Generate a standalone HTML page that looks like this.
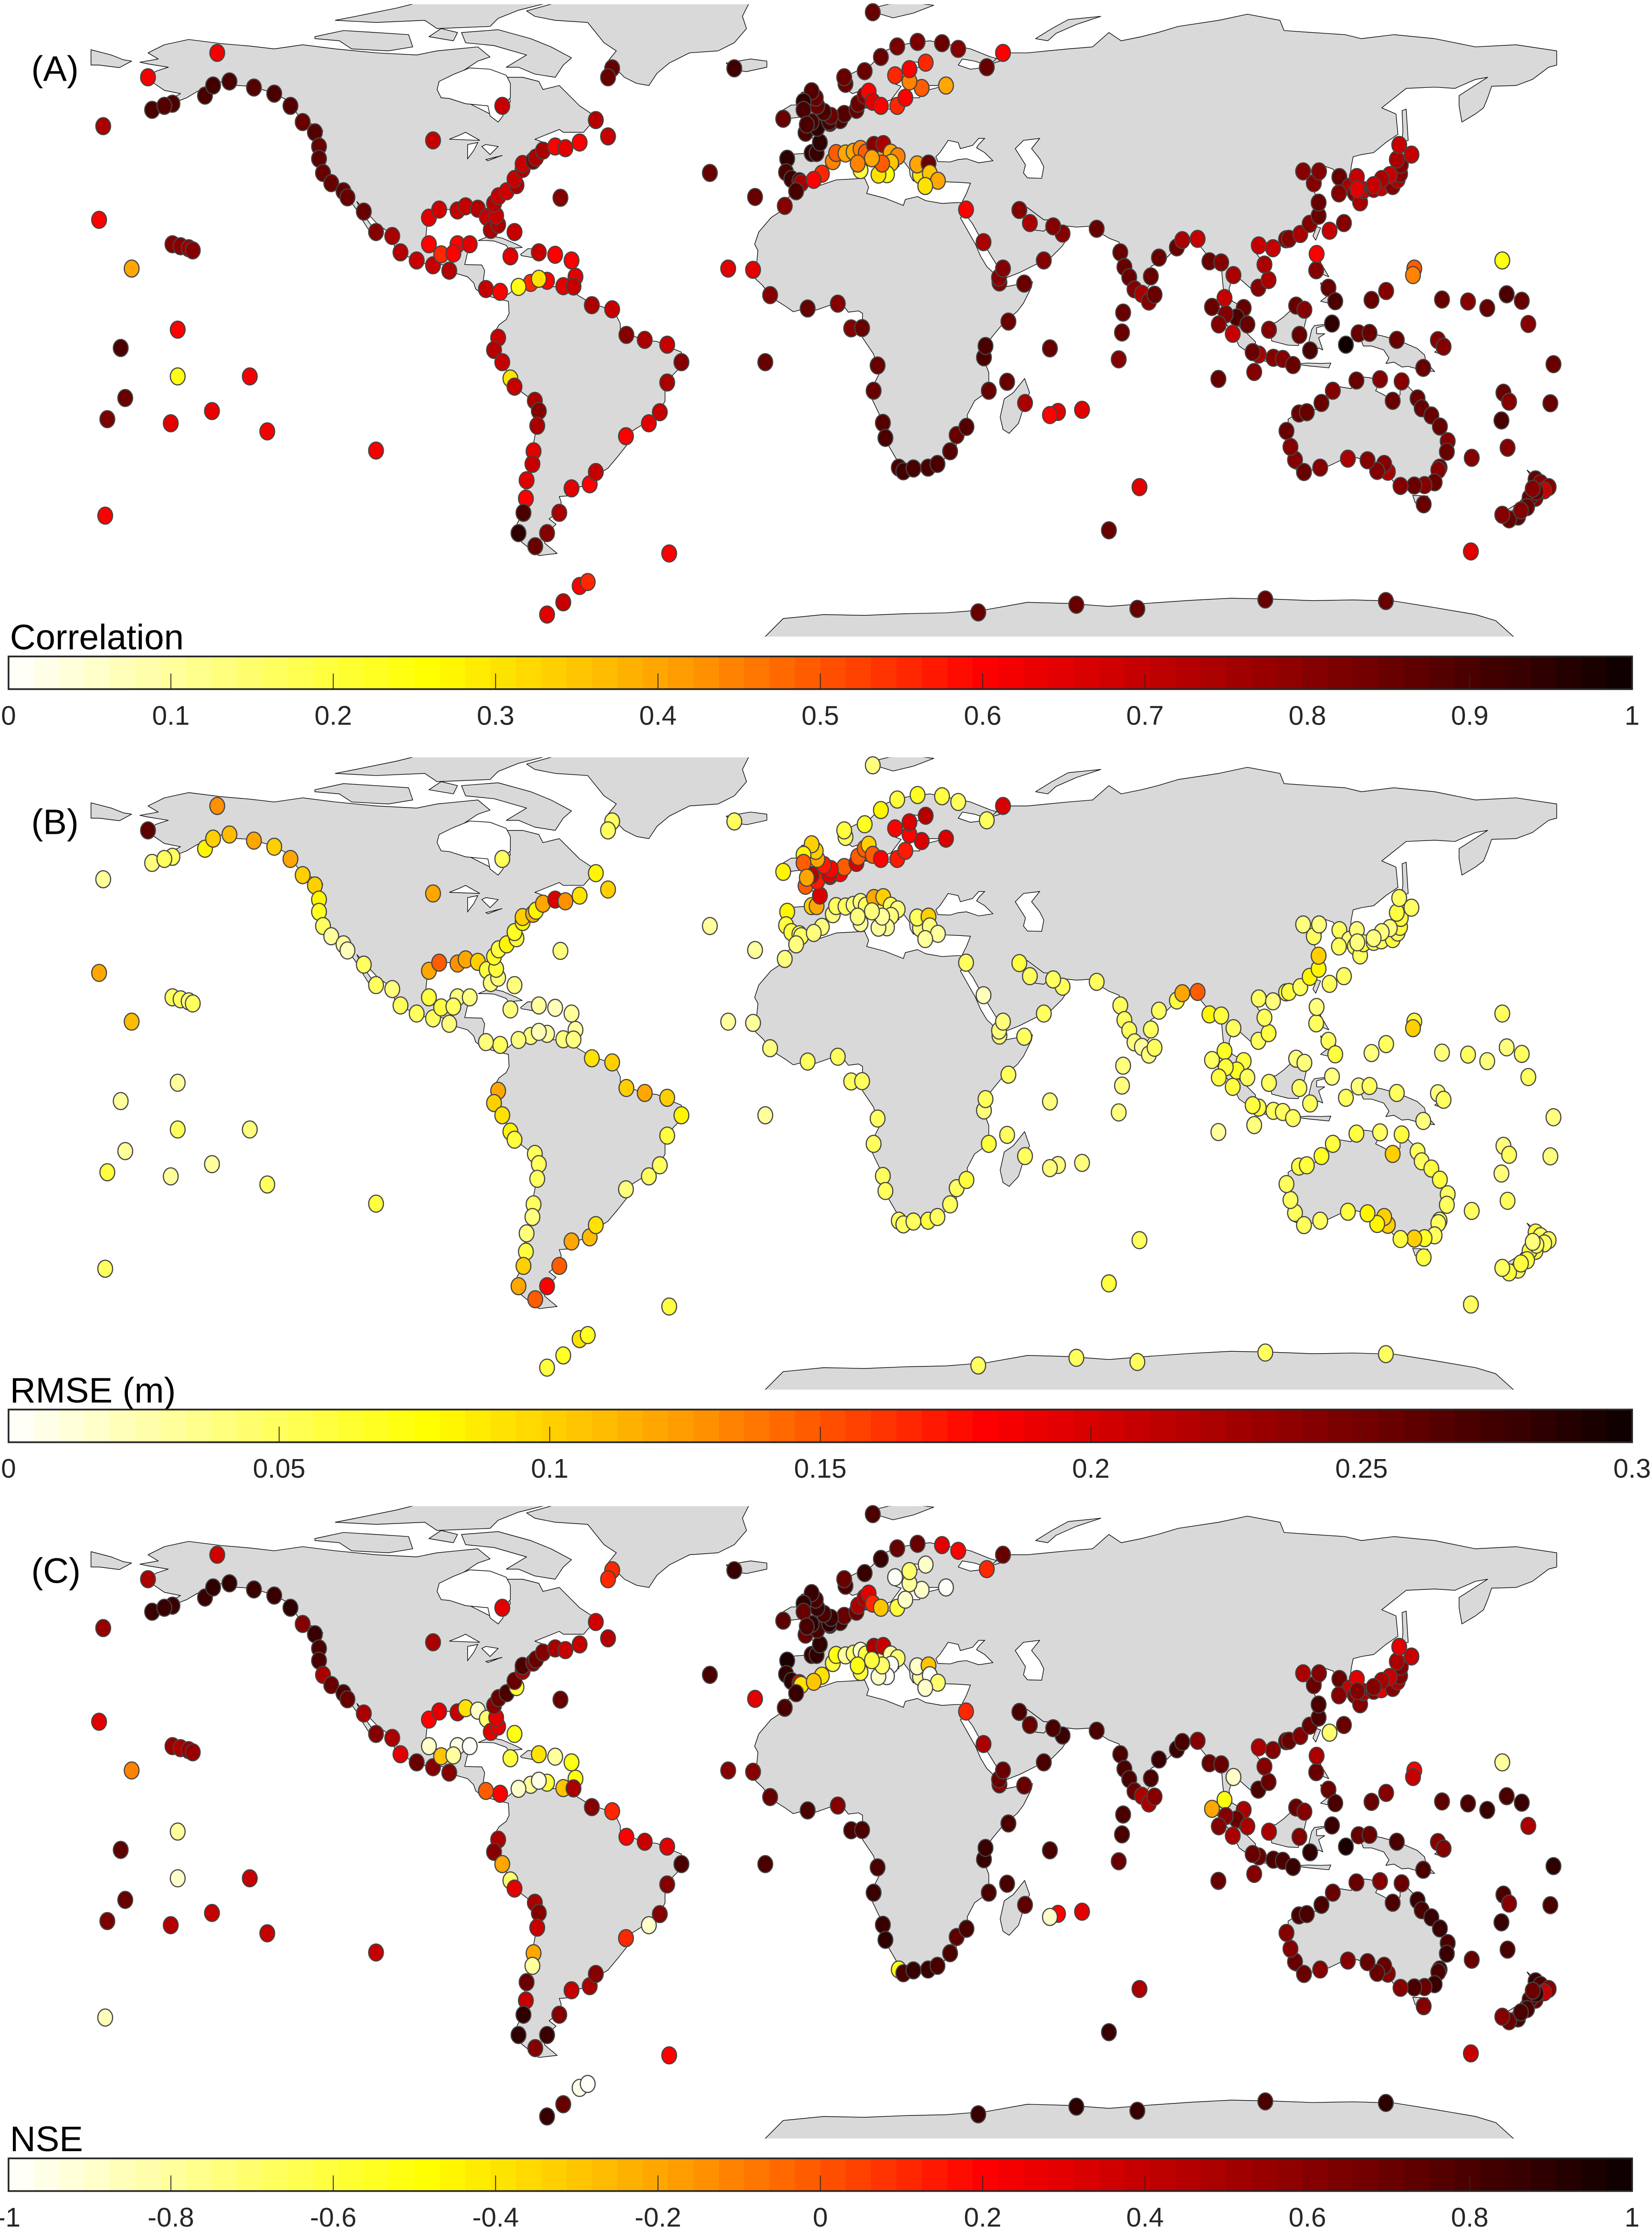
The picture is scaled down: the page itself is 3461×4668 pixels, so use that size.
<!DOCTYPE html>
<html><head><meta charset="utf-8">
<style>
html,body{margin:0;padding:0;background:#fff;}
svg{display:block;font-family:"Liberation Sans",sans-serif;}
</style></head>
<body>
<svg id="fig" xmlns="http://www.w3.org/2000/svg" width="3461" height="4668" viewBox="0 0 1162 1568" preserveAspectRatio="none"></svg>
<script>
// ---- station data (lon, lat) and metric values ----
const stationLon = [
-177,-166,-149,-178,-170,-160,-158,-156,-155,-172.7,-158.7,-158.7,-171.6,-176,-160.4,-150.3,
-141,-136.7,-110,-176.5,
-165,-160,-162,-152,-150,-146,-140,-135,-131,-128,-125,-124,-124,-123,-121,-118,-117,-113,-110,-106,-104,-100,-96,-92,
-97,-94.5,-90,-88,-85,-82.8,-81.8,-97,-94,-90,-87,-91,
-80,-76,-77,-70,-66,-62,-61,-64,-68,-72,-75,-79.5,-83,-70,
-80.5,-81,-79.9,-77.9,-75.5,-76,-74,-74,-71.4,-70.7,-69,-66,-63.5,-60,-53,-56,-96,-79,
-52,-53,-22,12,
-80,-81,-79,-77,-76,-71,-70,-70.4,-71.3,-71.6,-73,-73.2,-73.8,-75,-70.9,
-68,-65,-62,-57.5,-56,-48.6,-43,-40.3,-38.5,-35,-38.5,-44,-48.5,-52,-57,-61.5,
-68,-64,-60,-58,-38,-14.4,
-28,-16.9,-23.5,6.7,-64.7,
-9,-9.3,-8,-6,-5.6,-3,-1.8,-1,-4.5,-1.6,1.5,4,5,8,8.4,-3,1.3,1.7,0,-1.6,-2,-3,-5,-5,-4.2,-10,
5.3,5,10,14,18,23,29,33,40,44,10,11,12,14,18,20,24,21,17.5,21,25,30,
-0.5,2.2,3,5.3,7.3,9,10.3,13,12.3,14.6,16.4,18.1,16.5,15.5,13.4,9,8.3,14.3,11.8,23.6,22.9,25.7,26,28,24.9,-2.5,
-6.8,-9.6,-17.4,-13.2,-4,3.4,12.2,14.5,15.1,18.4,19.5,22,25.6,27.9,31,32.6,35,40.5,39.3,39.7,45.3,49.2,43.1,39.2,34.9,9.4,13.2,
57.5,55.5,63.4,45,49.4,55.5,73.5,73.2,72.4,77.5,70,96.9,
58.6,56.3,50.6,48,67,72.8,73.8,75,76.3,78.1,80.3,82.3,86.7,88,91.8,79.8,81.2,43,54,44,
94.7,97.6,98.4,100.6,103.1,101.4,104,106.7,109.2,108.2,106.8,110.3,113.5,114.2,117,119.3,121.5,121.5,120.3,121.6,117.7,126.6,129,130.9,126.5,95.3,98.7,100.4,
130.4,131.7,132.5,135,136.9,139.7,140.9,141.5,141.7,140.7,144.3,141.3,139,137,135,131,127.7,124.2,
120.9,123.9,125.6,121,106.8,110.4,112.7,115.2,119.4,124.8,128.2,131.3,134,140.7,147.2,150.8,152.2,116,118,109.3,116.8,105.7,105.3,97,
166.6,145,144.7,134.5,138.1,151.8,158.2,162.9,167.7,171.4,173,166.9,168.3,166.4,178.4,179.2,
115.7,114.6,113.6,116.7,118.6,122.2,125,130.8,136.6,139.7,141.9,145.8,146.8,149.2,151.3,153.2,153,151.2,150.9,150,147.5,145,141.6,138.5,137.6,135.9,133.5,128.7,121.9,117.9,147.3,159.1,
174.8,176,178,176.9,174.8,173.3,172.7,170.5,168.3,166.6,171.2,175,174.1,158.9,167.9,
37.9,62,77,108.4,138
];
const stationLat = [
50,62,68,27,15,21,20.5,20,19.5,-4.5,0,-11.5,-16.8,-22,-23,-20,
-11.5,-25,-29.7,-45.7,
54,55.5,55,57.5,60,61,59.5,58,55,51,48.5,45,42,38.5,36,34,32.5,29,24,23,19,17,15.8,14.5,
27.5,29.5,29.3,30.3,29.7,27.7,24.5,21,18.5,21,21,18.7,
25.8,24,18,19,18.4,17,13,10.7,12,11.5,10.5,9.3,10,12.5,
28,31,32.8,34,35.5,37,39.5,40.7,41.5,42.3,44,45,44.6,46,47.5,51.5,46.5,55,
64.2,62,64.2,78,
-2,-5,-8,-12,-14,-17.5,-20,-23.6,-29.9,-33,-37,-41.5,-45,-50,-53.2,
-50,-45,-39,-38,-35,-26.2,-23,-20.3,-13,-8,-3.7,-2.5,-1.3,5,6,10.6,
-70,-67,-63,-62,-55,-8,
38.5,32.6,15,0.3,32.4,
42,38.7,37,36.5,36,43.4,43.4,46,48.4,49.6,50.8,51.5,53,54,55.5,51,51.1,52.5,53.5,55,57,58.6,56,54,50.4,51.8,
60.4,62,63.5,67,69.6,70.7,70.4,69,64.5,68,57.5,58.5,56,55,55,57,59.4,61,62.5,64,65.6,60,
38.3,41.4,43.4,43.3,43.7,44.4,43.5,43.6,45.4,45.6,43.5,42.6,41,38.2,38.1,39.2,40.8,40.8,42.1,38,40.6,40.8,38.4,36.6,35.3,36.8,
34,30.4,14.7,8.5,5.2,6.4,-15,-22.9,-26.6,-33.9,-34.8,-34.1,-33.9,-33,-29.9,-25.9,-23.9,-15,-6.8,-4,2,11.3,11.6,21.5,29.5,0.4,-8.8,
-20.2,-21,-19.7,-12.8,-18,-4.6,4.2,-0.7,-7.3,-38.7,-49.3,-12.1,
23.6,25.4,26.2,29.4,24.8,19,15.4,12.9,9.9,8.8,13.1,17.7,20.2,22,22.3,6.9,8.6,12.8,17,15,
16.8,16.5,7.8,13.4,5.3,3,1.3,10.3,12.2,16,20.7,20,22.2,22.3,23.5,26,28,31.2,36,38.9,38.9,37.5,35.1,37.5,33.5,5.6,3.8,-1,
33.6,31.3,34.3,34.6,35,35.3,36.9,38.3,40.5,41.8,43,45.4,38,37,35.5,34.5,26.2,24.3,
14.6,10.3,7,18.6,-6.1,-6.9,-7.2,-8.7,-5.1,1.5,-3.7,-0.9,-0.8,-2.5,-9.4,-2.6,-4.2,5.9,4.9,-0.03,-1.3,-10.4,-5.5,1.3,
17,15,13.4,7.3,9.5,7.4,6.9,5.3,8.7,7.1,1.4,-15.5,-17.7,-22.3,-18.1,-8.5,
-32,-28.8,-24.9,-20.6,-20.3,-18,-15,-12.5,-12.2,-17.5,-12.7,-16.9,-19.3,-21.1,-23.8,-27.4,-30,-33.9,-34.5,-37.5,-38.2,-38.3,-38.4,-34.9,-33,-34.7,-32.1,-31.7,-33.9,-35,-42.9,-31.5,
-36.8,-37.7,-38.7,-39.5,-41.3,-41.3,-43.6,-45.9,-46.6,-45.5,-44.4,-39.8,-39.1,-54.5,-29,
-69.5,-67.6,-68.6,-66.3,-66.7
];
const corrValues = [
.75,.62,.62,.6,.4,.8,.8,.78,.8,.9,.6,.25,.85,.82,.65,.63,
.62,.62,.62,.6,
.9,.9,.88,.9,.92,.9,.88,.9,.88,.85,.88,.85,.86,.85,.85,.87,.85,.85,.8,.75,.72,.7,.7,.72,
.65,.68,.7,.7,.72,.7,.75,.6,.55,.6,.65,.6,
.75,.7,.65,.7,.6,.6,.65,.65,.6,.55,.25,.6,.7,.3,
.7,.72,.7,.68,.75,.7,.72,.7,.8,.75,.75,.6,.65,.6,.7,.72,.7,.7,
.85,.85,.92,.85,
.7,.72,.7,.3,.7,.75,.8,.75,.65,.7,.65,.6,.9,.95,.85,
.8,.75,.65,.6,.7,.6,.65,.7,.75,.8,.7,.75,.8,.7,.75,.7,
.65,.7,.6,.55,.6,.85,
.85,.85,.65,.8,.8,
.95,.9,.92,.85,.75,.95,.93,.95,.9,.95,.9,.9,.88,.85,.85,.9,.9,.85,.9,.85,.85,.88,.95,.9,.9,.85,
.85,.85,.85,.85,.82,.82,.85,.8,.85,.6,.8,.6,.65,.6,.55,.6,.5,.45,.55,.6,.55,.4,
.55,.45,.5,.4,.4,.45,.5,.4,.8,.75,.4,.45,.35,.25,.3,.2,.45,.5,.4,.3,.4,.85,.35,.4,.3,.6,
.9,.8,.65,.8,.85,.8,.85,.88,.9,.9,.92,.9,.9,.9,.88,.85,.88,.85,.9,.9,.85,.85,.8,.75,.6,.85,.85,
.65,.6,.65,.85,.75,.85,.85,.85,.8,.65,.85,.85,
.8,.8,.75,.8,.85,.85,.85,.85,.8,.75,.85,.85,.85,.75,.7,.8,.85,.8,.8,.8,
.85,.8,.7,.75,.85,.9,.85,.8,.75,.75,.7,.7,.8,.8,.75,.8,.85,.85,.8,.8,.8,.85,.75,.7,.8,.85,.8,.7,
.8,.75,.7,.75,.7,.8,.75,.8,.8,.75,.7,.7,.7,.75,.7,.65,.8,.7,
.8,.85,.9,.6,.75,.8,.8,.85,.9,.95,1,.85,.85,.85,.85,.8,.8,.85,.8,.8,.85,.8,.85,.8,
.25,.5,.45,.85,.8,.85,.8,.85,.9,.85,.8,.85,.8,.9,.85,.85,
.8,.8,.85,.85,.85,.85,.8,.85,.8,.85,.8,.85,.85,.85,.85,.8,.85,.85,.8,.85,.8,.85,.8,.75,.8,.8,.8,.75,.8,.85,.85,.8,
.85,.8,.8,.7,.8,.85,.85,.85,.85,.8,.8,.85,.8,.65,.8,
.85,.85,.85,.85,.85
];
const rmseValues = [
.03,.26,.13,.12,.11,.05,.05,.04,.05,.03,.03,.05,.03,.06,.03,.03,
.04,.05,.06,.05,
.04,.05,.05,.08,.1,.11,.12,.1,.12,.1,.1,.08,.07,.05,.03,.03,.02,.05,.05,.04,.05,.05,.05,.04,
.12,.15,.13,.12,.1,.06,.04,.06,.06,.04,.04,.05,
.04,.04,.04,.03,.02,.03,.03,.04,.03,.04,.04,.05,.04,.02,
.06,.07,.06,.08,.06,.07,.08,.1,.12,.08,.12,.2,.13,.09,.1,.08,.12,.05,
.05,.05,.05,.04,
.12,.1,.09,.08,.06,.05,.05,.05,.05,.04,.04,.06,.1,.12,.15,
.18,.15,.12,.11,.09,.04,.05,.05,.06,.08,.1,.12,.1,.1,.09,.04,
.06,.07,.09,.07,.06,.03,
.03,.03,.03,.05,.04,
.08,.06,.06,.05,.05,.1,.12,.2,.15,.17,.2,.18,.15,.2,.15,.22,.2,.18,.17,.12,.1,.1,.08,.15,.12,.08,
.05,.06,.07,.08,.06,.07,.06,.05,.05,.2,.15,.1,.15,.18,.17,.17,.2,.18,.18,.2,.22,.2,
.04,.04,.05,.05,.04,.04,.05,.05,.12,.1,.05,.04,.04,.03,.03,.03,.04,.03,.04,.04,.05,.1,.04,.03,.03,.04,
.04,.04,.03,.04,.05,.05,.05,.05,.05,.05,.05,.05,.06,.05,.05,.05,.06,.06,.04,.05,.05,.05,.04,.02,.05,.05,.05,
.04,.04,.04,.05,.05,.04,.04,.04,.04,.05,.06,.03,
.05,.05,.05,.06,.05,.05,.05,.05,.04,.03,.05,.05,.06,.12,.15,.04,.05,.04,.05,.04,
.08,.06,.07,.05,.06,.07,.05,.05,.06,.05,.05,.04,.06,.06,.05,.08,.08,.1,.05,.04,.04,.05,.04,.04,.05,.05,.06,.06,
.05,.05,.06,.05,.05,.06,.05,.06,.06,.06,.05,.05,.04,.04,.04,.04,.05,.05,
.05,.05,.06,.04,.06,.05,.05,.05,.05,.04,.05,.04,.05,.05,.04,.04,.05,.04,.04,.05,.05,.04,.06,.06,
.05,.06,.1,.04,.05,.04,.05,.04,.04,.05,.05,.04,.05,.04,.04,.04,
.05,.05,.05,.06,.06,.07,.06,.06,.05,.1,.06,.05,.05,.06,.06,.05,.05,.05,.05,.05,.07,.1,.06,.1,.1,.08,.08,.06,.05,.05,.06,.05,
.06,.05,.05,.05,.06,.06,.06,.05,.06,.05,.06,.05,.04,.05,.05,
.05,.05,.05,.05,.05
];
const nseValues = [
.55,.5,.35,.3,-.1,.55,.5,.55,.55,.75,-.8,-.9,.7,.65,.45,.4,
.4,.4,.4,-.85,
.85,.85,.85,.85,.9,.88,.85,.85,.88,.6,.85,.8,.8,.5,.7,.8,.7,.5,.6,.5,.3,.7,.6,.6,
.2,.3,.4,-.4,-.9,-.7,.3,-.9,-.3,-.95,-1,-.8,
.3,-.5,-.6,-.4,-.8,-.5,-.5,-.3,-.6,-.8,-.9,.2,0,-.95,
.3,.6,.7,.8,-.6,.7,.5,.8,.6,.7,.6,.5,.4,.4,.45,.35,.5,.3,
.1,.1,.85,.8,
.5,.6,-.2,-.7,.3,.5,.6,.4,-.2,-.8,.7,.4,.9,.9,.6,
.85,.6,.4,.5,.6,.1,-.9,.6,.6,.8,.3,.4,.2,.1,.6,.5,
.85,.7,-.95,-1,.2,.8,
.8,.3,.6,.8,.7,
.95,.9,.9,.3,-.4,.85,.9,.9,.7,.8,.85,.8,.7,.7,.5,.9,.9,.85,.8,.85,.8,.85,.9,.7,.8,.75,
.8,.7,.85,.85,.7,.7,.3,.2,.1,.7,.5,.3,.1,-.3,-.6,-.9,-.9,-.8,-1,-.7,-.9,-1,
-.4,-.6,-.5,-.8,-.7,-.9,-.6,-.7,.5,.4,-.8,-.7,-1,-1,-.9,-.6,-.5,-.7,-.6,-.8,-.9,-.3,-1,-.7,-.9,-.3,
.85,.8,.6,.7,.8,.6,.85,.85,.9,-.5,.8,.85,.85,.8,.8,.75,.8,.8,.85,.85,.8,.7,.6,.5,.1,.8,.8,
.2,-.9,.3,.8,.75,.8,.8,.8,.7,.5,.85,.7,
.85,.8,.7,.8,.8,.8,.8,.8,.7,.5,.8,.85,.85,.8,.6,.5,.6,.7,.8,.7,
.7,.7,-.5,-.9,.5,.7,.5,.8,.7,.6,.5,.6,.7,.7,.6,.7,.8,.8,.7,.6,.5,.7,.4,.3,.6,-.2,.6,.5,
.6,.6,.5,.6,.3,.6,.5,.6,.6,.5,.4,.3,.4,.5,.6,.6,.7,-.7,
.7,.7,.8,.5,.7,.8,.8,.85,.9,.85,.95,.7,.7,.8,.8,.6,.6,.7,.6,.5,.6,.6,.7,.6,
-.8,.2,.4,.7,.6,.75,.8,.85,.8,.85,.5,.8,.6,.85,.8,.9,
.7,.6,.6,.8,.8,.8,.7,.7,.6,.8,.7,.85,.8,.85,.85,.8,.85,.85,.8,.85,.7,.8,.6,.6,.7,.7,.7,.6,.6,.7,.6,.7,
.85,.8,.6,.4,.7,.8,.8,.8,.7,.6,.8,.85,.7,.4,.8,
.85,.9,.85,.8,.9
];
// colorbar tick labels
const corrTicks = ["0","0.1","0.2","0.3","0.4","0.5","0.6","0.7","0.8","0.9","1"];
const rmseTicks = ["0","0.05","0.1","0.15","0.2","0.25","0.3"];
const nseTicks = ["-1","-0.8","-0.6","-0.4","-0.2","0","0.2","0.4","0.6","0.8","1"];
const panelLetters = ["(A)","(B)","(C)"];
const panelTitles = ["Correlation","RMSE (m)","NSE"];
const panelMin = [0,0,-1];
const panelMax = [1,0.3,1];

// ---- land outlines (lon,lat) ----
const LAND = [
"-166,68 -162,70 -156,71.3 -148,70.3 -141,69.7 -135,69 -128,70 -120,69 -110,68 -100,67.5 -95,68.5 -90,69 -85,69.5 -82,67 -85,66 -88,64 -93,61 -94.5,58.5 -92,57 -87,55.5 -82,53 -80,51.5 -79,54 -77,56 -77.5,58.5 -78,62 -74,62 -70,61 -69,59 -65,60 -62,57 -60,55 -57,53 -56,52 -59,48.5 -64,48.5 -65,49.2 -71,46.8 -66,45 -61,45.5 -60,45.5 -64,44 -66,43.8 -70,43.5 -70.5,42 -72,41 -74,40.5 -74,39.5 -75.5,38.5 -76,37 -75.5,35.5 -77,34.5 -79,33.5 -81,31.5 -80.5,28 -80,25.5 -81.2,25.2 -82.7,27.7 -83,29 -84.5,30 -86,30.4 -89,30.3 -90,29 -91.5,29.5 -94,29.6 -97,27.8 -97.5,25.5 -97.8,22.5 -96.5,19.5 -94.5,18.2 -92,18.6 -91,19.2 -90.5,21 -87,21.5 -87.5,19 -88.2,16 -84,15.9 -83.3,14.5 -83.8,11 -82,9 -79.5,9.5 -77.5,8.7 -75.5,10.5 -74,11.2 -72,12.2 -71,11 -70,12.2 -68,10.5 -64,10.6 -62,10.7 -60.5,8.5 -58,7 -55,5.8 -52,4.8 -51,3.5 -50,1.5 -50,0 -48,-1 -44.5,-2.5 -41,-2.9 -37.5,-4.5 -35,-5.5 -35,-9 -37,-11 -39,-14 -39,-17.5 -40.5,-20.5 -42,-23 -44.5,-23.3 -48,-25.5 -48.5,-28.5 -50.5,-31 -53,-34 -54.5,-35 -56.8,-36.3 -57.5,-38.2 -62,-39 -62.3,-40.8 -65,-41 -64.5,-42.5 -65.5,-45 -67.5,-46.5 -65.8,-47.8 -69,-51 -68.5,-52.5 -65.5,-55 -70,-55.5 -72,-54 -74.5,-52 -75.5,-48 -74,-45 -73.5,-42 -73.5,-37 -71.8,-33 -71.5,-29 -70.4,-23 -70.2,-18.5 -72,-17 -76,-14 -78,-10 -79.5,-7 -81,-5.2 -80,-2 -80.5,0 -79.8,1.2 -78,2.5 -77.3,4 -77.5,7 -80,7.5 -81.5,8 -83.5,8.5 -85.5,10 -86,11.5 -87.5,13 -91,14 -93,15.8 -95,16.2 -97,15.8 -100,17 -103,18.3 -105.5,20.5 -105.5,23 -109.5,25.8 -112.5,29 -114.7,31.5 -114,30 -112.5,27.5 -110,24 -110.3,23 -112,24.8 -114,28 -115,29.8 -117,32.5 -118.5,34 -120.6,34.5 -122,36.8 -123,38 -124,40.3 -124.3,43 -124,46.3 -124.7,48.4 -123,48.8 -125.5,50.5 -128,51 -130,54 -132,56.5 -135.5,58.3 -138,59 -140,59.8 -144,60 -147,60.8 -150,61 -151.5,59.5 -154,58.5 -156.5,57 -159,56 -163,54.8 -162,55.8 -158,58 -162,58.8 -164.5,60.5 -165.5,62.5 -164,63.5 -161,64.5 -166,65.3 -168,65.7 -163.5,66.5",
"-80,73.7 -72,71.5 -67,69.5 -62,66.8 -64,65 -66,62 -71,62.8 -75,64.5 -78,64.5 -73,67.5 -81,69.8 -88,70.5 -89,73",
"-125,72 -118,73.5 -110,73 -102,72.5 -101,69.5 -107,68.5 -116,69 -119,71 -125,71.5",
"-95,74 -82,74.5 -80,76.5 -75,78.5 -65,81 -62,82.5 -80,83 -95,81.5 -105,79 -115,77 -120,76 -110,75.5 -98,76",
"-97,72 -94,74 -90,73 -91,71",
"-73,78.3 -67,80 -60,82 -40,83.5 -22,83 -18,81 -20,77 -19,74 -22,70.5 -26,68.5 -33,68 -38,65.5 -41,63 -43,60 -46,60.5 -49,62 -51,64 -53,66 -51,68.5 -54,70.5 -56,73 -58,75.5 -66,76 -71,77",
"-84.9,21.9 -82,23.1 -79,22.5 -75.5,21 -74.1,20.2 -77.5,19.9 -78,20.7 -81,21.8 -83,21.9",
"-74.5,18.5 -72.7,19.9 -70,19.8 -68.4,18.6 -71.5,17.7 -74.3,18.2",
"-67.2,18.5 -65.6,18.4 -65.8,18 -67.2,18",
"-78.3,18.5 -76.3,18.2 -77,17.8 -78.3,18.2",
"-24,65.5 -18,66.5 -14,66 -14,64.5 -19,63.4 -22.5,63.9",
"-5.7,50 1.4,51.1 1.7,52.7 0,53.5 -1.5,55.5 -2,57.5 -3.5,58.6 -5.5,58.3 -6,56.5 -5,55 -3.2,54 -4.5,53.3 -5,52 -3.5,51.5 -5.7,50",
"-10,51.7 -6,52.2 -6,54 -5.7,55.2 -8,55.2 -10,54 -9.5,53",
"-9,37 -9.5,39 -9,43 -2,43.5 -1.5,46 -4.5,48.5 -1.5,49.7 1.5,51 4,51.5 5,53.3 8,53.6 8.5,55.5 8,57 10.5,57.7 10.5,56 12,55.5 10,54.5 14,54 19,54.5 21,55.5 21,57 23.5,57 24,58.5 28,59.5 30,60 23,60 21.5,61 21.5,63.5 25,65.5 22,65.8 19,63.5 17.5,62 17,60.5 19,59.8 16.5,56.5 14,55.5 12.8,56 11,58.5 10,59 7,58 5.5,59 5,62 8,63.5 11,64.5 13,66.5 15,68.5 18,69.8 22,70.5 26,71 31,70 36,69 41,67 44,66.2 40,65 37,66 34,66.5 33,65 36,64 40,64.5 44,68 50,68 55,68.5 60,69 66,69.5 70,73 73,71 78,72 82,73 87,74.5 97,76 104,77.5 112,76 113,73.5 120,73 128,72.5 132,71.5 140,72.5 150,71.5 160,69.5 170,70 180,68.5 180,65 178,64.5 174,61.5 170,60 164,59.8 163,57 162,54.5 160,53 156.7,51 156,55 156,57.5 163,62 160,61.5 155,59.3 150,59.6 143,59.3 137,54.5 140.5,53 141,48 138,46 135,43.5 132,43 130,42.5 129.5,40 129,35.2 126.5,34.5 126.5,37.5 125,39.5 122,40.5 121,39 118,39 119,37.5 122.5,37 120,35 122,30 120.5,27 117,23.5 113,22 110,21 108,21.5 106,19 109,15 109,11.5 106,8.7 105,10 102.5,12.2 100.5,13.5 99.5,10 100.3,7 103,5.5 104,1.5 101,2.8 98.5,7.5 98,11 97.5,16.5 94.5,16 94,18.5 92,21 89,21.8 86.5,20 84,17.5 80.3,15.5 80,11 78,8.2 76.5,9 74,15 72.8,19 72.5,21.5 70,22.5 68,23.7 66.5,25.5 62,25.2 57.5,25.7 56.3,26.4 54,24.2 51.5,24.5 50.5,26.5 48.5,29.5 50,30 54,27 56.5,27 59.8,22.5 58.5,20.5 55.5,17.5 52,16 48,14 45,12.8 43.2,13 42.7,15.5 39,21.5 36.5,26 35,28 34.5,29.5 34,31.5 35,33.5 36,36 33,36.2 30,36.3 27.5,37 26.5,39 26.5,40.3 23.5,40.2 22.8,40.5 24,38 22,36.5 21.2,37.8 21,39.5 19.5,41.5 19,42.5 15.5,44 14,45.2 13.5,45.8 12.3,45.3 12.3,44.5 14,42.5 16,41.8 18.5,40.2 17,39 16,38 15.6,40 13,41.3 11,42.5 10,44 8.7,44.4 7,43.6 4.5,43.4 3,43 3,42 0.8,40.8 -0.3,39.5 -0.7,37.7 -2,36.8 -4.5,36.7 -5.6,36 -6.3,36.8 -7.5,37.2",
"-17,21 -16,24 -13,27.5 -10,29.5 -9.5,32 -6.5,34 -5.8,35.8 -2,35.1 3,36.8 10,37.2 11,35 10.5,33.5 15,32.3 19.5,30.5 20,32 23,32.7 25,31.7 29,31 32.3,31.2 34.2,31.2 34.5,28 33.5,27.5 35.5,24 37.2,21 38.5,18 40,15.5 43.2,12.5 44.5,10.5 51.2,11.8 51,10.5 49,6.5 47.5,4.5 44,1.5 41.5,-1.5 40,-3.5 39,-6.5 40.5,-10.5 40.5,-15 37,-17.5 35.2,-21 35.5,-24 32.8,-26 32.5,-28.7 30.5,-31 28,-33 25.5,-34 22,-34.2 20,-34.8 18.4,-34 17.9,-32 15,-27 14.4,-22.5 11.8,-17 12.5,-13 13.5,-11 12.2,-6 9.5,-2 9.5,1 9.5,4 8.5,4.6 6,4.3 4.5,6.3 1.5,6 -2,4.8 -4.5,5.2 -7.5,4.4 -9.5,5.8 -13,8 -15,10.8 -16.8,12.5 -17.3,14.7 -16.5,16.5 -16.2,19.5",
"49.3,-12 50.5,-15.5 49.7,-17 47.8,-23 45.5,-25.5 44,-24.5 43.3,-21.5 44.3,-17 46.5,-15.5",
"80,9.8 81.8,7.5 81.5,6.2 80.1,6 79.8,8.2",
"129.7,33.6 131,33.9 132,33 131.5,31.3 130.2,31.2 129.8,32.7",
"130.9,34 132.5,35.4 135.5,35.6 136.8,37.3 138.5,37.8 140,39.5 140,41.2 141.5,41.3 142,39.5 141,38 141,36.5 140.8,35.7 139.8,35 139,34.6 137,34.6 136,33.5 135,34.3 132.5,34 131,33.9",
"140,41.5 141,43.3 141.7,45.4 143.5,44 145.5,43.3 143.2,42 141,41.8",
"142,46 143.5,46.5 143,54.2 142,53.8 142.2,49",
"120.1,23 121,25.3 122,25 120.8,22",
"108.6,19.2 110.5,20.1 111,19.6 109.5,18.2",
"120,16 120.6,18.5 122.2,18.5 122,16.5 124,13 122,13.8 120.6,14.2",
"122,7 125.5,9.7 126.6,7 125.5,5.6 124,6.5",
"122,11.5 124,11 125,11.3 123.5,9.5 122.3,10",
"109,1.5 110,-2.8 114,-3.8 116.5,-3.9 118,0.8 119,5 117,7 116,6 113,3.2 111,1.7",
"95.3,5.6 97.5,5.2 100,2.5 104,-1 106,-3 106,-5.8 104.5,-5.8 102,-4 100.5,-1 98.5,1.8",
"105.2,-6.8 106,-5.9 110,-6.8 112.6,-6.9 114.5,-7.8 114.5,-8.7 111,-8.2 106.4,-7.4",
"115.5,-8.4 119,-8.2 122,-8.3 124.5,-8.2 124,-9.4 119,-8.9",
"119.4,-5.5 119,-3.5 119.8,0 120.5,1 125,1.5 121,0.5 121,-1 123,-1 121.5,-2 122.5,-5 121.5,-4.5 120.5,-5.5",
"131,-1.3 134,-0.9 137,-1.5 141,-2.6 145.7,-4.6 147.5,-6.2 147.9,-8 150,-10.3 147,-10 143.5,-9 142,-9.2 140,-8 138,-8.3 138.8,-7 137.5,-5 134.5,-4 132.5,-4 132,-2.8",
"150,-5.5 152,-4 153,-4.5 151.5,-6",
"114,-22 114.2,-26 113.3,-26.5 115,-30 115,-34 118,-35 122,-34 124,-33.5 128,-31.6 131,-31.5 134,-32.5 136,-34.8 138,-33.2 138.5,-35.5 140,-37.5 143,-38.8 146,-39 148,-37.8 150,-37.5 150.5,-35 151.5,-33.5 153,-31 153.6,-28.5 153,-25.5 151,-23.5 149,-21 146.5,-19 145.5,-16 143.5,-14 142.5,-10.8 141.5,-13 141.5,-16 140,-17.7 137.5,-16 135.5,-15 136.8,-12.5 134,-11.8 131,-11.5 129.5,-14.5 126.5,-14 124,-16.5 122.3,-17.5 121,-19.5 118,-20.4 116,-20.8",
"144.6,-40.7 148.3,-40.9 148,-43 146.8,-43.6 145.2,-42.5",
"172.7,-34.5 174.5,-36 176,-37.6 178.5,-37.7 177.9,-39.2 176.8,-39.9 175,-41.6 174.8,-41.3 174.6,-39.6 173.8,-39.2 174.6,-37.5",
"172.7,-40.5 174.3,-41.7 173,-43.5 171,-44.6 170.5,-46 168.5,-46.6 166.5,-46 166.8,-45 168.3,-44 170.8,-42.4 172,-41",
"11,78.8 16,80 22,80.3 27,79.7 22,77.8 17,76.6 14,77.5",
"52,71.5 56,74 60,76.2 68,77 62,75 57,72.8 55,71",
"12.5,38.1 15.6,38.3 15.1,36.7",
"8.4,41 9.8,41 9.6,39 8.4,39",
"-180,68.8 -175,67.5 -172,66.3 -170,66 -173,64.4 -178,65 -180,65",
"-15,-76 -10,-71 0,-70 10,-70.2 20,-69.8 30,-69.6 40,-68.8 50,-67 60,-67.3 70,-68 80,-67.2 90,-66.5 100,-66 110,-66.2 120,-66.6 130,-66.4 140,-66.7 150,-68.3 160,-70 165,-71.5 170,-76"
];
const WATER = [
"-95,59 -94,57 -92,56.8 -88,55.5 -82.5,55 -82,52.5 -80,51 -78.8,52.5 -79,55 -77,57 -77,60.5 -78,62.5 -82,64 -87,64.3 -91,62.7 -94.5,61",
"28,41.3 27.5,42.5 28.5,43.5 29.7,45.3 30.5,46.5 33,46 33.5,44.5 36.5,45.3 38,47 39.5,47 38,45.5 37.5,44.7 39.5,43.5 41.5,41.5 38,41 35,42 33,41.8 31,41.2",
"47,44.5 49,46.5 53,47 51,44.5 53,42 54,40 53.5,37.2 50,37.3 49,38.5 49.5,40.5",
"-92,46.8 -84.5,46.5 -88,48.5 -89.5,47.8",
"-87.5,42 -86,44 -85,46 -87.5,45.5",
"-83,45.5 -80,45 -82,43 -84,45",
"-83,41.8 -79,42.8 -80,42.5 -82.5,41.5"
];

const NS = "http://www.w3.org/2000/svg";
const svg = document.getElementById('fig');
const X0 = 64, KX = 2.864, EQ = 232;
function projX(lon){ return X0 + (lon + 180) * KX; }
function projY(lat){ return EQ - lat * KX; }

const cmapStops = [[0,[255,255,255]],[0.26,[255,255,0]],[0.42,[255,153,0]],[0.6,[255,0,0]],[0.8,[136,0,0]],[1,[12,0,0]]];
function cmap(t){
  t = Math.max(0, Math.min(1, t));
  t = (Math.floor(t * 63.999) + 0.5) / 64;
  for (let i = 1; i < cmapStops.length; i++){
    if (t <= cmapStops[i][0]){
      const a = cmapStops[i-1], b = cmapStops[i];
      const f = (t - a[0]) / (b[0] - a[0]);
      const c = a[1].map((v,k)=>Math.round(v + (b[1][k]-v)*f));
      return 'rgb(' + c.join(',') + ')';
    }
  }
  return 'rgb(12,0,0)';
}
function mk(tag, attrs, parent){
  const e = document.createElementNS(NS, tag);
  for (const k in attrs) e.setAttribute(k, attrs[k]);
  parent.appendChild(e);
  return e;
}
function ringPts(s){
  return s.trim().split(/\s+/).map(p=>{const [lo,la]=p.split(',').map(Number);return projX(lo).toFixed(1)+','+projY(la).toFixed(1);}).join(' ');
}

const panelOffsets = [0, 530, 1057];
const panelValues = [corrValues, rmseValues, nseValues];
const panelTicks = [corrTicks, rmseTicks, nseTicks];

const defs = mk('defs', {}, svg);
const clip = mk('clipPath', {id:'mapclip'}, defs);
mk('rect', {x:0, y:3, width:1162, height:445}, clip);

for (let p = 0; p < 3; p++){
  const off = panelOffsets[p];
  const g = mk('g', {transform:'translate(0,'+off+')'}, svg);
  
  
  const landG = mk('g', {'clip-path':'url(#mapclip)'}, g);
  
  
  LAND.forEach(s=>{
    const poly = mk('polygon', {points:ringPts(s), fill:'#d9d9d9', stroke:'#000', 'stroke-width':0.45, 'stroke-linejoin':'round'}, landG);
    
    
  });
  WATER.forEach(s=>{
    const poly = mk('polygon', {points:ringPts(s), fill:'#fff', stroke:'#000', 'stroke-width':0.45}, landG);
    
    
  });
  // stations
  const vals = panelValues[p];
  const vmin = panelMin[p], vmax = panelMax[p];
  const sg = mk('g', {}, g);
  
  
  const n = Math.min(stationLon.length, stationLat.length, vals.length);
  for (let i = 0; i < n; i++){
    const c = mk('ellipse', {cx:projX(stationLon[i]).toFixed(1), cy:projY(stationLat[i]).toFixed(1), rx:5.2, ry:6, fill:cmap((vals[i]-vmin)/(vmax-vmin)), stroke:'#444', 'stroke-width':0.8}, sg);
    
    
  }
  // panel letter
  const lt = mk('text', {x:22, y:57, 'font-size':25, fill:'#000'}, g);
  lt.textContent = panelLetters[p];
  
  
  // colorbar title
  const tt = mk('text', {x:7, y:457, 'font-size':25, fill:'#000'}, g);
  tt.textContent = panelTitles[p];
  
  
  // colorbar
  const cb = mk('g', {}, g);
  
  
  const bx = 6, bw = 1142, by = 462, bh = 23;
  for (let k = 0; k < 64; k++){
    mk('rect', {x:(bx + k*bw/64).toFixed(2), y:by, width:(bw/64+0.4).toFixed(2), height:bh, fill:cmap((k+0.5)/64), stroke:'none'}, cb);
  }
  mk('rect', {x:bx, y:by, width:bw, height:bh, fill:'none', stroke:'#262626', 'stroke-width':1.2}, cb);
  const ticks = panelTicks[p];
  for (let k = 0; k < ticks.length; k++){
    const tx = bx + bw * k / (ticks.length - 1);
    if (k > 0 && k < ticks.length - 1){
      mk('line', {x1:tx, x2:tx, y1:by+bh, y2:by+bh-11, stroke:'#262626', 'stroke-width':0.6}, cb);
    }
    const tl = mk('text', {x:tx, y:510, 'font-size':19, 'text-anchor':'middle', fill:'#262626'}, cb);
    tl.textContent = ticks[k];
    
    
  }
}
</script>
</body></html>
